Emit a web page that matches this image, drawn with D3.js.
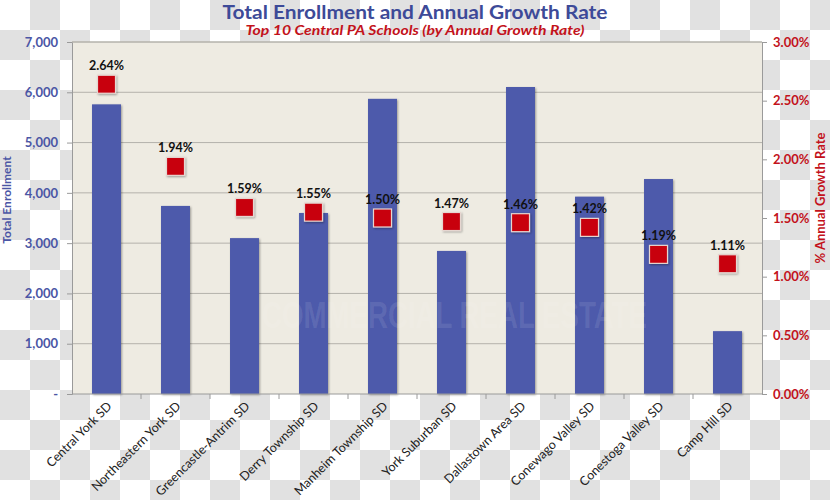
<!DOCTYPE html>
<html><head><meta charset="utf-8">
<script src="https://cdn.jsdelivr.net/npm/d3@7"></script>
<style>body{margin:0;padding:0;overflow:hidden}svg{display:block}</style>
</head><body>
<script>
const schools = ["Central York SD","Northeastern York SD","Greencastle-Antrim SD","Derry Township SD","Manheim Township SD","York Suburban SD","Dallastown Area SD","Conewago Valley SD","Conestoga Valley SD","Camp Hill SD"];
const enrollment = [5760, 3740, 3100, 3600, 5870, 2845, 6105, 3925, 4275, 1250];
const growth = [2.64, 1.94, 1.59, 1.55, 1.50, 1.47, 1.46, 1.42, 1.19, 1.11];
const leftTicks = [0,1000,2000,3000,4000,5000,6000,7000];
const rightTicks = [0,0.5,1,1.5,2,2.5,3];

const W=830,H=500;
const m={l:72,r:762,t:42,b:394};
const FONT="Lato, Open Sans, sans-serif";
const svg=d3.select("body").append("svg").attr("width",W).attr("height",H);
const defs=svg.append("defs");
const pat=defs.append("pattern").attr("id","chk").attr("width",60).attr("height",60).attr("patternUnits","userSpaceOnUse");
pat.append("rect").attr("width",60).attr("height",60).attr("fill","#ffffff");
pat.append("rect").attr("x",0).attr("y",30).attr("width",30).attr("height",30).attr("fill","#e1e1e1");
pat.append("rect").attr("x",30).attr("y",0).attr("width",30).attr("height",30).attr("fill","#e1e1e1");
const sh=defs.append("filter").attr("id","sh").attr("x","-30%").attr("y","-30%").attr("width","160%").attr("height","160%");
sh.append("feDropShadow").attr("dx",1).attr("dy",1).attr("stdDeviation",1).attr("flood-color","#000").attr("flood-opacity",0.35);

svg.append("rect").attr("width",W).attr("height",H).attr("fill","url(#chk)");
svg.append("rect").attr("x",m.l).attr("y",m.t).attr("width",m.r-m.l).attr("height",m.b-m.t).attr("fill","#eeebe2");

const x=d3.scaleBand().domain(schools).range([m.l,m.r]);
const yL=d3.scaleLinear().domain([0,7000]).range([m.b,m.t]);
const yR=d3.scaleLinear().domain([0,3]).range([m.b,m.t]);

// gridlines
svg.append("g").selectAll("line").data(leftTicks.filter(d=>d>0)).join("line")
 .attr("x1",m.l).attr("x2",m.r).attr("y1",d=>yL(d)).attr("y2",d=>yL(d))
 .attr("stroke","#b4b2ab").attr("stroke-width",1);

// bars
const bw=x.bandwidth()*0.42;
svg.append("g").selectAll("rect").data(schools).join("rect")
 .attr("x",(d)=>x(d)+x.bandwidth()/2-bw/2).attr("width",bw)
 .attr("y",(d,i)=>yL(enrollment[i])).attr("height",(d,i)=>m.b-yL(enrollment[i]))
 .attr("fill","#4e5aab").attr("filter","url(#sh)");

// faint watermark
svg.append("text").attr("x",262).attr("y",328).attr("font-family","Liberation Sans Narrow, Liberation Sans, Arial").attr("font-weight","bold")
 .attr("font-size",36).attr("textLength",385).attr("lengthAdjust","spacingAndGlyphs")
 .attr("fill","#ffffff").attr("fill-opacity",0.1).text("COMMERCIAL REAL ESTATE");

// axes
const axL=d3.axisLeft(yL).tickValues(leftTicks).tickSize(5).tickFormat(d=>d===0?"-":d3.format(",")(d));
const gL=svg.append("g").attr("transform",`translate(${m.l},0)`).call(axL);
gL.select(".domain").attr("stroke","#9a9a9a");
gL.selectAll(".tick line").attr("stroke","#9a9a9a");
gL.selectAll("text").attr("font-family",FONT).attr("font-weight","bold").attr("font-size",13).attr("fill","#4b56a5").attr("dx",-6);

const axR=d3.axisRight(yR).tickValues(rightTicks).tickSize(5).tickFormat(d=>d3.format(".2f")(d)+"%");
const gR=svg.append("g").attr("transform",`translate(${m.r},0)`).call(axR);
gR.select(".domain").attr("stroke","#9a9a9a");
gR.selectAll(".tick line").attr("stroke","#9a9a9a");
gR.selectAll("text").attr("font-family",FONT).attr("font-weight","bold").attr("font-size",13).attr("fill","#c3121b").attr("dx",3);

// bottom axis
svg.append("line").attr("x1",m.l).attr("x2",m.r).attr("y1",m.b).attr("y2",m.b).attr("stroke","#9a9a9a");
svg.append("line").attr("x1",m.l).attr("x2",m.r).attr("y1",m.t).attr("y2",m.t).attr("stroke","#b4b2ab");
svg.append("g").selectAll("line").data(schools.slice(1)).join("line")
 .attr("x1",d=>x(d)).attr("x2",d=>x(d)).attr("y1",m.b).attr("y2",m.b+5).attr("stroke","#9a9a9a");
svg.append("g").selectAll("text").data(schools).join("text")
 .attr("transform",d=>`translate(${x(d)+x.bandwidth()/2+6},${m.b+13}) rotate(-45)`)
 .attr("text-anchor","end").attr("font-family",FONT).attr("font-size",12.5).attr("fill","#222").text(d=>d);

// markers
const ms=18;
svg.append("g").selectAll("rect").data(schools).join("rect")
 .attr("x",d=>x(d)+x.bandwidth()/2-ms/2).attr("y",(d,i)=>yR(growth[i])-ms/2)
 .attr("width",ms).attr("height",ms).attr("fill","#c8000f").attr("stroke","#e6d6d0").attr("stroke-width",1.2).attr("filter","url(#sh)");
svg.append("g").selectAll("text").data(schools).join("text")
 .attr("x",d=>x(d)+x.bandwidth()/2).attr("y",(d,i)=>yR(growth[i])-14)
 .attr("text-anchor","middle").attr("font-family",FONT).attr("font-weight","bold").attr("font-size",12.5).attr("fill","#111")
 .text((d,i)=>d3.format(".2f")(growth[i])+"%");

// titles
svg.append("text").attr("x",415).attr("y",19).attr("text-anchor","middle").attr("font-family",FONT).attr("font-weight","bold").attr("font-size",18.5)
 .attr("textLength",385).attr("lengthAdjust","spacingAndGlyphs").attr("fill","#3d4a98").text("Total Enrollment and Annual Growth Rate");
svg.append("text").attr("x",415).attr("y",35).attr("text-anchor","middle").attr("font-family",FONT).attr("font-weight","bold").attr("font-style","italic").attr("font-size",13.5)
 .attr("textLength",339).attr("lengthAdjust","spacingAndGlyphs").attr("fill","#c3121b").text("Top 10 Central PA Schools (by Annual Growth Rate)");
svg.append("text").attr("transform","translate(11,200) rotate(-90)").attr("text-anchor","middle").attr("font-family",FONT).attr("font-weight","bold").attr("font-size",12).attr("fill","#4b56a5").text("Total Enrollment");
svg.append("text").attr("transform","translate(825,198) rotate(-90)").attr("text-anchor","middle").attr("font-family",FONT).attr("font-weight","bold").attr("font-size",13).attr("fill","#c3121b").text("% Annual Growth Rate");
</script>
</body></html>
